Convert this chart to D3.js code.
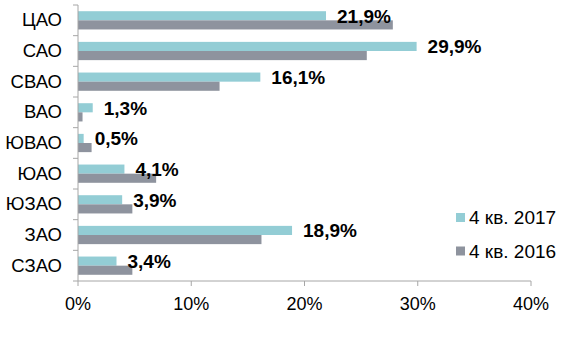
<!DOCTYPE html>
<html>
<head>
<meta charset="utf-8">
<script src="https://cdn.jsdelivr.net/npm/d3@7"></script>
<style>
  body { margin: 0; background: #fff; }
  text { font-family: "Liberation Sans", Arial, sans-serif; }
</style>
</head>
<body>
<div id="chart"></div>
<script>
var districts = ['ЦАО', 'САО', 'СВАО', 'ВАО', 'ЮВАО', 'ЮАО', 'ЮЗАО', 'ЗАО', 'СЗАО'];
var q4_2017 = [21.9, 29.9, 16.1, 1.3, 0.5, 4.1, 3.9, 18.9, 3.4];
var q4_2016 = [27.8, 25.5, 12.5, 0.4, 1.2, 6.9, 4.8, 16.2, 4.8];
var seriesNames = ['4 кв. 2017', '4 кв. 2016'];
var xTicks = [0, 10, 20, 30, 40];

(() => {
  var width = 563, height = 353;
  var margin = { top: 5, left: 78 };
  var plotW = 531 - 78, plotH = 281 - 5;
  var colors = ['#93cdd5', '#8e939e'];

  var svg = d3.select('#chart')
    .append('svg')
    .attr('width', width)
    .attr('height', height);

  var g = svg.append('g')
    .attr('transform', 'translate(' + margin.left + ',' + margin.top + ')');

  var x = d3.scaleLinear().domain([0, 40]).range([0, plotW]);
  var y = d3.scaleBand().domain(districts).range([0, plotH]);
  var inner = d3.scaleBand().domain([0, 1]).range([0, y.bandwidth()]).paddingOuter(0.68).paddingInner(0);

  var rows = districts.map((d, i) => ({ name: d, vals: [q4_2017[i], q4_2016[i]] }));

  var row = g.selectAll('.row')
    .data(rows)
    .enter()
      .append('g')
      .attr('transform', d => 'translate(0,' + y(d.name) + ')');

  row.selectAll('rect')
    .data(d => d.vals)
    .enter()
      .append('rect')
      .attr('x', 0)
      .attr('y', (v, i) => inner(i))
      .attr('width', v => x(v))
      .attr('height', inner.bandwidth())
      .attr('fill', (v, i) => colors[i]);

  row.append('text')
    .attr('x', d => x(d.vals[0]) + 11)
    .attr('y', inner(0) + inner.bandwidth() / 2 + 2)
    .attr('dominant-baseline', 'middle')
    .attr('font-size', 19)
    .attr('font-weight', 'bold')
    .attr('fill', '#000')
    .text(d => d.vals[0].toFixed(1).replace('.', ',') + '%');

  // y axis
  var yAxis = g.append('g');
  yAxis.append('line')
    .attr('x1', 0).attr('x2', 0).attr('y1', 0).attr('y2', plotH)
    .attr('stroke', '#a6a6a6');
  yAxis.selectAll('.yt')
    .data(d3.range(districts.length + 1))
    .enter()
      .append('line')
      .attr('x1', -5).attr('x2', 0)
      .attr('y1', i => i * y.step()).attr('y2', i => i * y.step())
      .attr('stroke', '#a6a6a6');
  yAxis.selectAll('.yl')
    .data(districts)
    .enter()
      .append('text')
      .attr('x', -16)
      .attr('y', d => y(d) + y.bandwidth() / 2 + 1)
      .attr('text-anchor', 'end')
      .attr('dominant-baseline', 'middle')
      .attr('font-size', 18.5)
      .attr('fill', '#000')
      .text(d => d);

  // x axis
  var xAxis = g.append('g').attr('transform', 'translate(0,' + plotH + ')');
  xAxis.append('line')
    .attr('x1', 0).attr('x2', plotW)
    .attr('stroke', '#a6a6a6');
  xAxis.selectAll('.xt')
    .data(xTicks)
    .enter()
      .append('line')
      .attr('x1', d => x(d)).attr('x2', d => x(d))
      .attr('y1', 0).attr('y2', 5)
      .attr('stroke', '#a6a6a6');
  xAxis.selectAll('.xl')
    .data(xTicks)
    .enter()
      .append('text')
      .attr('x', d => x(d))
      .attr('y', 29)
      .attr('text-anchor', 'middle')
      .attr('font-size', 18)
      .attr('fill', '#000')
      .text(d => d + '%');

  // legend
  var legend = svg.selectAll('.lg')
    .data(seriesNames)
    .enter()
      .append('g')
      .attr('transform', (d, i) => 'translate(456,' + (213 + i * 33.5) + ')');
  legend.append('rect')
    .attr('width', 9).attr('height', 9)
    .attr('fill', (d, i) => colors[i]);
  legend.append('text')
    .attr('x', 13)
    .attr('y', 11)
    .attr('font-size', 19)
    .attr('fill', '#000')
    .text(d => d);
})();
</script>
</body>
</html>
